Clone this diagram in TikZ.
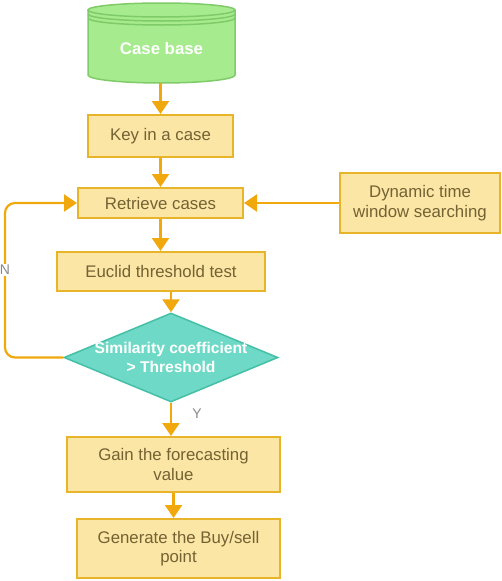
\documentclass[tikz,border=0pt]{standalone}
\usepackage{fontspec}
\setmainfont{Liberation Sans}
\usetikzlibrary{arrows.meta,shapes.geometric}
\definecolor{boxfill}{HTML}{FCE6A6}
\definecolor{boxline}{HTML}{E8B42A}
\definecolor{boxtext}{HTML}{736232}
\definecolor{arrowc}{HTML}{F0A80C}
\definecolor{greenfill}{HTML}{A6EB8E}
\definecolor{greenline}{HTML}{7FCB69}
\definecolor{tealfill}{HTML}{6ED9C6}
\definecolor{tealline}{HTML}{45BFA6}
\definecolor{labelc}{HTML}{8A8A8A}
\begin{document}
\begin{tikzpicture}[x=1pt,y=-1pt,
  every node/.style={font=\fontsize{16.8}{19.5}\selectfont},
  procbox/.style={draw=boxline,fill=boxfill,line width=2pt,text=boxtext,inner sep=0pt,align=center},
  flow/.style={draw=arrowc,line width=2.2pt,-{Triangle[length=13pt,width=17pt]}},
  edgelabel/.style={text=labelc,font=\fontsize{14}{16}\selectfont,fill=white,inner sep=1pt}]
\useasboundingbox (0,0) rectangle (502,581);
% Case base datastore
\fill[greenfill] (88,10) -- (88,75) arc[start angle=180,end angle=0,x radius=73.5,y radius=8] -- (235,10) arc[start angle=0,end angle=-180,x radius=73.5,y radius=7] -- cycle;
\draw[greenline,line width=1.5pt] (88,10) -- (88,75) arc[start angle=180,end angle=0,x radius=73.5,y radius=8] -- (235,10);
\draw[greenline,line width=1.5pt] (161.5,10) ellipse[x radius=73.5,y radius=7];
\draw[greenline,line width=1.5pt] (88,14) arc[start angle=180,end angle=0,x radius=73.5,y radius=7];
\draw[greenline,line width=1.5pt] (88,18) arc[start angle=180,end angle=0,x radius=73.5,y radius=7];
\node[minimum width=147pt,minimum height=80pt,inner sep=0pt] (cb) at (161.5,43) {};
\node[text=white,font=\bfseries\fontsize{16.8}{19.5}\selectfont] (cbt) at (161.5,48) {Case base};
% boxes
\node[procbox,minimum width=145pt,minimum height=42pt] (key) at (160.5,136) {Key in a case};
\node[procbox,minimum width=165pt,minimum height=30pt] (ret) at (160.5,203) {Retrieve cases};
\node[procbox,minimum width=160pt,minimum height=60pt] (dyn) at (420,203) {Dynamic time\\window searching};
\node[procbox,minimum width=208pt,minimum height=39pt] (euc) at (161,271.5) {Euclid threshold test};
\node[diamond,draw=tealline,fill=tealfill,line width=1.5pt,minimum width=214pt,minimum height=89pt,inner sep=0pt,aspect=2.4] (dia) at (171,357.5) {};
\node[text=white,font=\bfseries\fontsize{15.6}{19.5}\selectfont,align=center] (diat) at (171,357.5) {Similarity coefficient\\ \textgreater{} Threshold};
\node[procbox,minimum width=213pt,minimum height=55pt] (gain) at (173.5,464.5) {Gain the forecasting\\value};
\node[procbox,minimum width=203pt,minimum height=59pt] (gen) at (178.5,548.5) {Generate the Buy/sell\\point};
% connectors
\draw[flow] (key.north |- cb.south) -- (key.north);
\draw[flow] (key.south) -- (key.south |- ret.north);
\draw[flow] (ret.south) -- (ret.south |- euc.north);
\draw[flow] (dia.north |- euc.south) -- (dia.north);
\draw[flow] (dia.south) -- (dia.south |- gain.north);
\draw[flow] (gain.south) -- (gain.south |- gen.north);
\draw[flow] (dyn.west) -- (ret.east);
\draw[flow,rounded corners=10pt] (dia.west) -- (5,357.5) -- (5,203) -- (ret.west);
\node[edgelabel] (nlab) at (5,270) {N};
\node[edgelabel] (ylab) at (197,414) {Y};
\end{tikzpicture}
\end{document}
